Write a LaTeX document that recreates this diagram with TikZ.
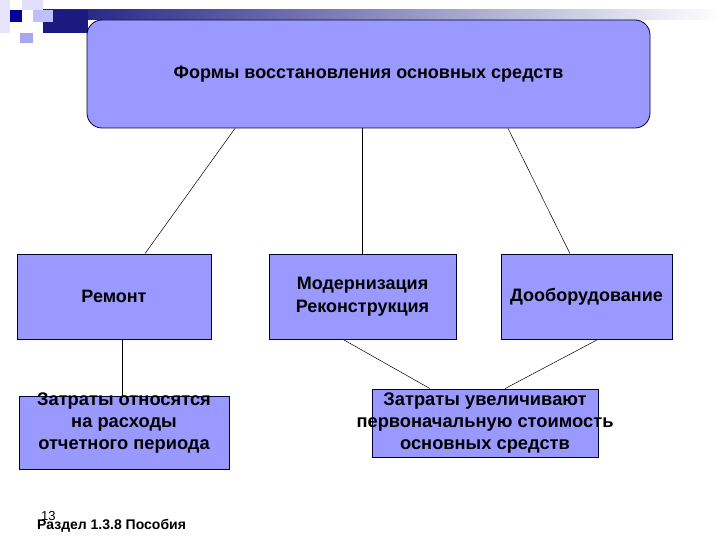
\documentclass[tikz,border=0pt]{standalone}
\usepackage{fontspec}
\setmainfont{Liberation Sans}
\definecolor{boxfill}{HTML}{9999FF}
\definecolor{boxline}{HTML}{000033}
\definecolor{navy}{HTML}{1A1A80}
\begin{document}
\begin{tikzpicture}
[
x = 1pt, y = -1pt,
    block/.style = {rectangle, draw = boxline, fill = boxfill, line width = 0.8pt, inner sep = 0pt},
    title/.style = {block, rounded corners = 15pt, minimum width = 563pt, minimum height = 108pt, font = \fontsize{18}{22}\selectfont\bfseries},
    branch/.style = {block, minimum height = 85pt, align = center, font = \fontsize{18}{23}\selectfont\bfseries},
    result/.style = {block},
    resulttext/.style = {align = center, inner sep = 0pt, font = \fontsize{18.3}{22}\selectfont\bfseries},
    link/.style = {draw = black, line width = 0.5pt}
]
    \useasboundingbox (0,0) rectangle (720,540);
    % corner squares and bar
    \fill[left color = navy, right color = white] (43,10) rectangle (720,20);
    \fill[navy] (43,10) rectangle (88,33);
    \fill[black!8!blue!10] (0,0) rectangle (10,33);
    \fill[black!5!blue!12] (22,0) rectangle (43,10);
    \fill[blue!25] (33,10) rectangle (53,22);
    \fill[black!15!blue!35] (20,33) rectangle (33,43);
    \fill[blue!60!black] (10,10) rectangle (22,22);

    \node[title] (forms) at (368.5,74) {Формы восстановления основных средств};
    \node[branch, minimum width = 194pt] (repair) at (114,296.5) {Ремонт};
    \node[branch, minimum width = 187pt] (modern) at (362.5,296.5) {Модернизация\\Реконструкция};
    \node[branch, minimum width = 171pt] (equip) at (586.5,296.5) {Дооборудование};
    \node[result, minimum width = 210pt, minimum height = 73pt] (costA) at (124,432.5) {};
    \node[result, minimum width = 226pt, minimum height = 68pt] (costB) at (485,423) {};
    \node[resulttext] (costAtext) at ([yshift = 9pt]costA.center) {Затраты относятся\\на расходы\\отчетного периода};
    \node[resulttext] (costBtext) at (costB.center) {Затраты увеличивают\\первоначальную стоимость\\основных средств};

    \node[anchor = base west, inner sep = 0pt, font = \fontsize{13}{15}\selectfont] (page) at (41,520) {13};
    \node[anchor = base west, inner sep = 0pt, font = \fontsize{14}{16}\selectfont\bfseries] (source) at (37,529) {Раздел 1.3.8 Пособия};

    \draw[link] ([xshift = -133.5pt]forms.south) -- ([xshift = 31pt]repair.north);
    \draw[link] (modern.north) -- (modern.north |- forms.south);
    \draw[link] ([xshift = 139.5pt]forms.south) -- ([xshift = -16.5pt]equip.north);
    \draw[link] ([xshift = 8pt]repair.south) -- ([xshift = -2pt]costA.north);
    \draw[link] ([xshift = -19.5pt]modern.south) -- ([xshift = -55pt]costB.north);
    \draw[link] ([xshift = 11.5pt]equip.south) -- ([xshift = 20pt]costB.north);
\end{tikzpicture}
\end{document}
